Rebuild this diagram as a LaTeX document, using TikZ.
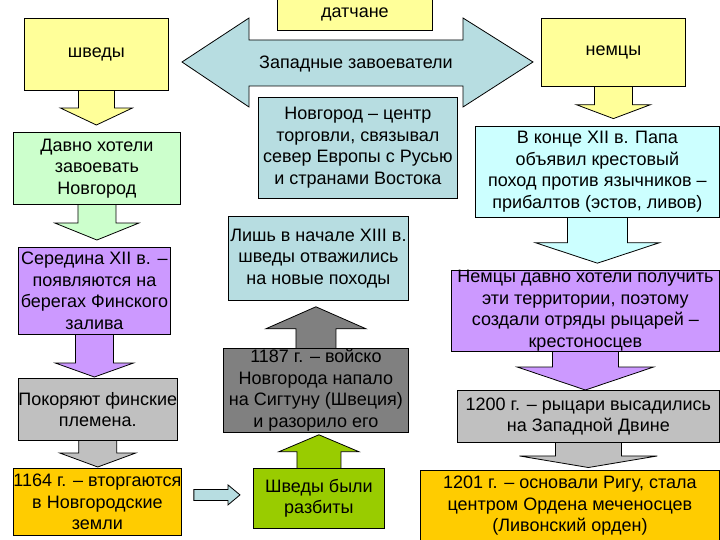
\documentclass[tikz,border=0pt]{standalone}
\usepackage{fontspec}
\setmainfont{Liberation Sans}
\usetikzlibrary{calc,backgrounds}

\definecolor{yel}{HTML}{FFFF99}
\definecolor{mint}{HTML}{CCFFCC}
\definecolor{lilac}{HTML}{CC99FF}
\definecolor{silver}{HTML}{C0C0C0}
\definecolor{amber}{HTML}{FFCC00}
\definecolor{steel}{HTML}{808080}
\definecolor{grass}{HTML}{99CC00}
\definecolor{ice}{HTML}{CCFFFF}
\definecolor{sea}{HTML}{B7DDE1}

\newcommand{\boxfont}{\fontsize{18}{21.5}\selectfont}

\tikzset{
  box/.style={draw, line width=0.8pt, inner sep=0pt, align=center, anchor=north west, font=\boxfont},
  blk/.style={draw, line width=0.8pt, line join=miter}
}

% block arrow from one box to the next
% #1 colour, #2 from, #3 to, #4 half shaft, #5 half head, #6 head length, #7 gap
\newcommand{\blkarrow}[7]{%
  \draw[blk, fill=#1] let \p1=(#2), \p2=($(#3)!#7!(#2)$), \p3=($(\p2)!#6!(#2)$) in
    (\x1-#4,\y1) -- (\x1-#4,\y3) -- (\x1-#5,\y3) -- (\x1,\y2)
    -- (\x1+#5,\y3) -- (\x1+#4,\y3) -- (\x1+#4,\y1);
}

\begin{document}
\begin{tikzpicture}[x=1pt, y=-1pt]
\useasboundingbox (0,0) rectangle (720,540);

% the big double arrow
\draw[blk, fill=sea] (182,62) -- (249,18) -- (249,40) -- (463,40) -- (463,18) -- (533,62)
     -- (463,107) -- (463,86) -- (249,86) -- (249,107) -- cycle;
\node[font=\boxfont] (zap) at (356,64) {Западные завоеватели};

% top row
\node[box, fill=yel, minimum width=155, minimum height=31] (dat) at (277,-1) {датчане};
\node[box, fill=yel, minimum width=144, minimum height=72] (sw) at (24,18) {шведы};
\node[box, fill=yel, minimum width=144, minimum height=68] (nem) at (541,18) {немцы};

% left column
\node[box, fill=mint, minimum width=167, minimum height=72] (dav) at (13,132) {Давно хотели\\завоевать\\Новгород};
\node[box, fill=lilac, minimum width=152, minimum height=87] (ser) at (18,247) {Середина XII в. –\\появляются на\\берегах Финского\\залива};
\node[box, fill=silver, minimum width=152, minimum height=62] (pok) at (18,378) {Покоряют финские\\племена.};
\node[box, fill=amber, minimum width=167, minimum height=67] (inv) at (13,468) {1164 г. – вторгаются\\в Новгородские\\земли};

% middle column
\node[box, fill=sea, minimum width=199, minimum height=101] (cen) at (258,97) {Новгород – центр\\торговли, связывал\\север Европы с Русью\\и странами Востока};
\node[box, fill=sea, minimum width=180, minimum height=84] (lish) at (228,216) {Лишь в начале XIII в.\\шведы отважились\\на новые походы};
\node[box, fill=steel, minimum width=185, minimum height=84] (nap) at (223,348) {1187 г. – войско\\Новгорода напало\\на Сигтуну (Швеция)\\и разорило его};
\node[box, fill=grass, minimum width=131, minimum height=60] (raz) at (253,468) {Шведы были\\разбиты};

% right column
\node[box, fill=ice, minimum width=244, minimum height=91] (kon) at (475,126) {В конце XII в. Папа\\объявил крестовый\\поход против язычников –\\прибалтов (эстов, ливов)};
\node[box, fill=lilac, minimum width=268, minimum height=80] (hot) at (451,270) {Немцы давно хотели получить\\эти территории, поэтому\\создали отряды рыцарей –\\крестоносцев};
\node[box, fill=silver, minimum width=262, minimum height=52] (vys) at (457,390) {1200 г. – рыцари высадились\\на Западной Двине};
\node[box, fill=amber, minimum width=299, minimum height=71] (rig) at (420,470) {1201 г. – основали Ригу, стала\\центром Ордена меченосцев\\(Ливонский орден)};

\begin{scope}[on background layer]
  \fill[white] (0,0) rectangle (720,540);
  % arrows between the boxes
  \blkarrow{yel}{sw.south}{dav.north}{18pt}{36pt}{17pt}{7pt}
  \blkarrow{mint}{dav.south}{ser.north}{19pt}{42pt}{17pt}{7pt}
  \blkarrow{lilac}{ser.south}{pok.north}{19pt}{39pt}{14pt}{1pt}
  \blkarrow{silver}{pok.south}{inv.north}{19pt}{38pt}{14pt}{1pt}
  \blkarrow{grass}{raz.north}{nap.south}{22pt}{40pt}{17pt}{2pt}
  \blkarrow{steel}{nap.north}{lish.south}{20pt}{50pt}{22pt}{6pt}
  \blkarrow{yel}{nem.south}{kon.north}{19pt}{37pt}{15pt}{8pt}
  \blkarrow{ice}{kon.south}{hot.north}{30pt}{62pt}{21pt}{7pt}
  \blkarrow{lilac}{hot.south}{vys.north}{33pt}{68pt}{23pt}{0pt}
  \blkarrow{silver}{vys.south}{rig.north}{33pt}{69pt}{14pt}{3pt}
\end{scope}

% small arrow between the bottom boxes
\coordinate (h1) at ($(inv.east)+(12,-7)$);
\coordinate (h2) at ($(raz.west)+(-13,-3)$);
\draw[blk, fill=sea] let \p1=(h1), \p2=(h2) in
  (\x1,\y1+5.5pt) -- (\x2-12pt,\y1+5.5pt) -- (\x2-12pt,\y1+10pt) -- (\x2,\y1)
  -- (\x2-12pt,\y1-10pt) -- (\x2-12pt,\y1-5.5pt) -- (\x1,\y1-5.5pt) -- cycle;

\end{tikzpicture}
\end{document}
